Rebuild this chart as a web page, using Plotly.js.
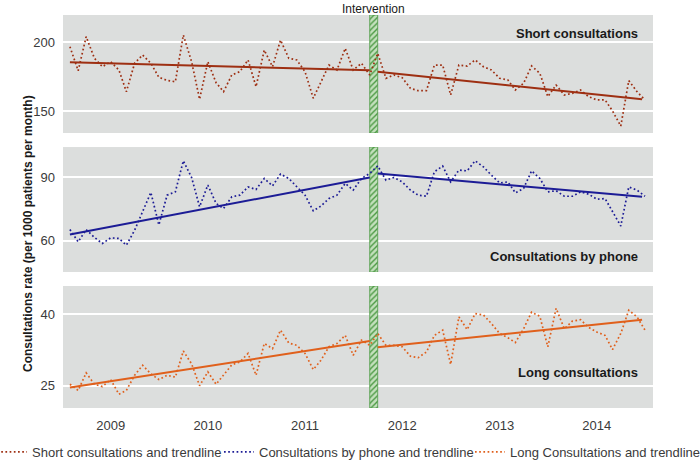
<!DOCTYPE html>
<html>
<head>
<meta charset="utf-8">
<script src="https://cdn.plot.ly/plotly-3.0.1.min.js"></script>
<style>
  html, body { margin: 0; padding: 0; background: #fff; }
  #chart { width: 700px; height: 460px; }
</style>
</head>
<body>
<div id="chart"></div>
<script>
// monthly data, Aug 2008 - Jul 2014
const months = [];
for (let k = 0; k < 72; k++) {
    const yr = 2008 + Math.floor((7 + k) / 12);
    const mo = (7 + k) % 12 + 1;
    months.push(yr + '-' + String(mo).padStart(2, '0') + '-01');
}

const shortRate = [196.6, 179.2, 203.9, 188.2, 182.1, 185.7, 179.7, 164.0, 184.6, 190.6,
    184.6, 174.4, 172.2, 171.2, 205.1, 185.7, 158.5, 185.7, 170.5, 164.0,
    176.1, 178.5, 187.0, 167.6, 194.2, 182.1, 201.4, 188.2, 187.0, 178.5,
    159.2, 171.2, 183.3, 179.7, 195.4, 179.7, 184.6, 176.1, 191.8, 173.7,
    176.1, 174.1, 166.4, 164.7, 164.7, 183.3, 183.3, 161.6, 183.3, 182.6,
    187.0, 182.1, 179.7, 173.7, 172.5, 165.2, 170.1, 182.6, 177.3, 160.4,
    168.8, 161.6, 162.8, 165.2, 160.4, 158.0, 158.0, 150.0, 139.0, 172.0,
    164.0, 158.0];

const phoneRate = [65.3, 59.5, 65.3, 61.6, 58.7, 61.4, 61.1, 57.9, 65.0, 73.7,
    82.9, 67.5, 81.6, 83.2, 97.9, 90.0, 76.1, 86.4, 77.7, 75.3,
    80.8, 81.6, 85.5, 84.3, 89.5, 86.0, 91.6, 89.5, 85.5, 81.6,
    74.2, 76.4, 80.0, 81.6, 87.2, 84.0, 89.5, 91.9, 95.5, 88.7,
    90.0, 87.9, 84.0, 81.6, 81.1, 92.7, 95.4, 87.9, 93.5, 93.1,
    97.9, 95.0, 91.1, 87.4, 87.9, 82.7, 84.8, 93.1, 89.5, 83.2,
    83.7, 81.1, 81.1, 83.2, 82.1, 79.7, 80.0, 74.0, 67.0, 85.5,
    84.0, 81.1];

const longRate = [25.3, 24.0, 27.7, 25.3, 24.8, 26.3, 23.2, 24.0, 27.2, 29.3,
    27.5, 26.3, 27.2, 26.8, 32.3, 29.6, 25.0, 27.9, 25.3, 27.2,
    29.4, 30.0, 31.8, 27.2, 33.9, 32.8, 36.7, 34.0, 33.5, 31.8,
    28.4, 30.3, 33.2, 33.9, 35.6, 31.4, 34.6, 33.5, 36.0, 33.5,
    33.5, 33.2, 31.2, 30.9, 32.1, 35.6, 36.7, 29.5, 39.5, 36.8,
    40.2, 39.9, 38.1, 36.0, 35.1, 34.1, 37.0, 40.5, 39.6, 33.2,
    41.3, 37.0, 38.6, 38.9, 37.3, 36.3, 35.6, 32.6, 36.0, 40.9,
    39.5, 36.7];

// intervention month (September 2011)
const interventionStart = '2011-09-01';
const interventionEnd = '2011-10-01';
const interventionMid = '2011-09-16';
const interventionDays = 30;

// segmented trendlines (start, end) before and after the intervention
const preDates = ['2008-08-01', interventionStart];
const postDates = [interventionEnd, '2014-06-20'];
const shortPre = [185.3, 179.5], shortPost = [178.5, 158.5];
const phonePre = [63.0, 90.0], phonePost = [91.9, 80.8];
const longPre = [24.6, 34.4], longPost = [33.1, 38.9];

const shortRange = [134, 219.6];
const phoneRange = [45.2, 104.4];
const longRange = [20.3, 46];

const shortColor = '#9e2f12';
const phoneColor = '#1c1c96';
const longColor = '#e0601c';

const FONT = 'Liberation Sans, Arial, sans-serif';
const dotted = '1.7px,2.5px';

function series(y, ax, color, name, leg) {
    return {
        x: months, y: y, yaxis: ax, type: 'scatter', mode: 'lines', name: name,
        legend: leg,
        line: {color: color, width: 1.7, dash: dotted},
        hoverinfo: 'skip'
    };
}
function trend(x, y, ax, color) {
    return {
        x: x, y: y, yaxis: ax, type: 'scatter', mode: 'lines', showlegend: false,
        line: {color: color, width: 2}, hoverinfo: 'skip'
    };
}
function band(ax, range) {
    return {
        x: [interventionMid], y: [range[1] - range[0]], base: [range[0]], yaxis: ax,
        type: 'bar', width: [interventionDays * 86400000], showlegend: false,
        marker: {
            color: '#c4e0bd',
            line: {color: '#4d9a45', width: 0.8},
            pattern: {shape: '/', fgcolor: '#4d9a45', bgcolor: '#c4e0bd', size: 4, solidity: 0.35}
        },
        hoverinfo: 'skip'
    };
}

const data = [
    band('y3', shortRange), band('y2', phoneRange), band('y', longRange),
    series(shortRate, 'y3', shortColor, 'Short consultations and trendline', 'legend'),
    series(phoneRate, 'y2', phoneColor, 'Consultations by phone and trendline', 'legend2'),
    series(longRate, 'y', longColor, 'Long Consultations and trendline', 'legend3'),
    trend(preDates, shortPre, 'y3', shortColor), trend(postDates, shortPost, 'y3', shortColor),
    trend(preDates, phonePre, 'y2', phoneColor), trend(postDates, phonePost, 'y2', phoneColor),
    trend(preDates, longPre, 'y', longColor), trend(postDates, longPost, 'y', longColor)
];

const yBase = {
    showgrid: true, gridcolor: '#ffffff', gridwidth: 2, zeroline: false,
    ticks: '', ticklabelstandoff: 7, showline: false, fixedrange: true,
    tickfont: {family: FONT, size: 13, color: '#3a3a3a'}
};

function strip(text, ax, y) {
    return {
        text: '<b>' + text + '</b>', xref: 'paper', yref: ax + ' domain', x: 0.978, y: y,
        xanchor: 'right', yanchor: 'middle', showarrow: false,
        font: {family: FONT, size: 13, color: '#1a1a1a'}
    };
}
function legendAt(x) {
    return {
        orientation: 'h', x: x, xanchor: 'left', y: -0.112, yanchor: 'middle',
        font: {family: FONT, size: 13, color: '#3a3a3a'},
        bgcolor: 'rgba(0,0,0,0)', borderwidth: 0
    };
}

const layout = {
    width: 700, height: 460,
    margin: {l: 63, r: 47, t: 15, b: 52, autoexpand: false},
    paper_bgcolor: '#ffffff',
    plot_bgcolor: '#dcdedd',
    font: {family: FONT, size: 13, color: '#3a3a3a'},
    showlegend: true,
    bargap: 0,
    xaxis: {
        type: 'date', anchor: 'y', range: ['2008-07-06', '2014-07-31'],
        tick0: '2009-01-01', dtick: 'M12', tickformat: '%Y',
        showgrid: false, zeroline: false, ticks: '', ticklabelstandoff: 8,
        tickfont: {family: FONT, size: 13, color: '#3a3a3a'}
    },
    yaxis: Object.assign({}, yBase, {domain: [0, 0.3104], range: longRange, tickvals: [25, 40]}),
    yaxis2: Object.assign({}, yBase, {domain: [0.346, 0.664], range: phoneRange, tickvals: [60, 90]}),
    yaxis3: Object.assign({}, yBase, {domain: [0.6997, 1], range: shortRange, tickvals: [150, 200]}),
    legend: legendAt(-0.1203),
    legend2: legendAt(0.2644),
    legend3: legendAt(0.6898),
    annotations: [
        strip('Short consultations', 'y3', 0.845),
        strip('Consultations by phone', 'y2', 0.128),
        strip('Long consultations', 'y', 0.289),
        {
            text: 'Intervention', xref: 'x', yref: 'paper', x: interventionMid, y: 1,
            xanchor: 'center', yanchor: 'bottom', yshift: -3, showarrow: false,
            font: {family: FONT, size: 12, color: '#1a1a1a'}
        },
        {
            text: '<b>Consultations rate (per 1000 patients per month)</b>',
            xref: 'paper', yref: 'paper', x: -0.0593, y: 0.4427, textangle: -90,
            xanchor: 'center', yanchor: 'middle', showarrow: false,
            font: {family: FONT, size: 12, color: '#1a1a1a'}
        }
    ]
};

Plotly.newPlot('chart', data, layout, {staticPlot: true});
</script>
</body>
</html>
